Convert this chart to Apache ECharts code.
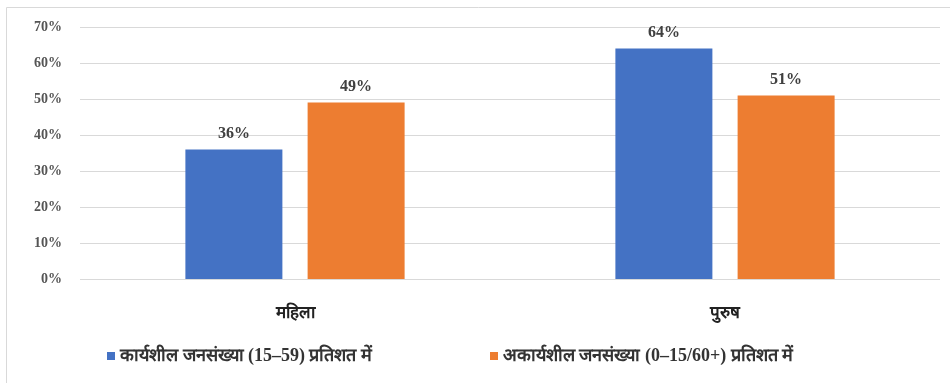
<!doctype html>
<html lang="hi">
<head>
    <meta charset="utf-8">
    <title>कार्यशील जनसंख्या</title>
    <script src="https://cdn.jsdelivr.net/npm/echarts@6/dist/echarts.min.js"></script>
    <style>
        html, body {margin: 0; padding: 0; background: #fff;}
        #chart {width: 950px; height: 383px;}
    </style>
</head>
<body>
<div id="chart"></div>
<script>
    // data
    let categories = ['महिला', 'पुरुष'];
    let working = [36, 64];
    let nonWorking = [49, 51];
    let seriesNames = ['कार्यशील जनसंख्या (15–59) प्रतिशत में', 'अकार्यशील जनसंख्या (0–15/60+) प्रतिशत में'];

    let font = '"Liberation Serif", "DejaVu Serif", serif';
    let chart = echarts.init(document.getElementById('chart'));

    let labelStyle = {
        show: true,
        position: 'top',
        distance: 8,
        formatter: '{c}%',
        color: '#404040',
        fontFamily: font,
        fontWeight: 'bold',
        fontSize: 16
    };

    chart.setOption({
        animation: false,
        graphic: [{
            type: 'rect',
            shape: {x: 6.5, y: 7.5, width: 960, height: 400},
            style: {fill: 'none', stroke: '#d9d9d9', lineWidth: 1},
            silent: true
        }],
        grid: {left: 80, right: 10, top: 27, bottom: 104},
        legend: {
            bottom: 13,
            left: 102,
            itemWidth: 8,
            itemHeight: 8,
            itemGap: 118,
            icon: 'rect',
            textStyle: {color: '#333', fontFamily: font, fontWeight: 'bold', fontSize: 18},
            data: seriesNames
        },
        xAxis: {
            type: 'category',
            data: categories,
            axisLine: {show: false},
            axisTick: {show: false},
            axisLabel: {color: '#222', fontFamily: font, fontWeight: 'bold', fontSize: 17, margin: 26}
        },
        yAxis: {
            type: 'value',
            min: 0,
            max: 70,
            interval: 10,
            axisLabel: {formatter: '{value}%', color: '#555', fontFamily: font, fontWeight: 'bold', fontSize: 14, margin: 18},
            splitLine: {lineStyle: {color: '#d9d9d9'}}
        },
        series: [{
            name: seriesNames[0],
            type: 'bar',
            data: working,
            barWidth: 97,
            barGap: '26%',
            itemStyle: {color: '#4472C4'},
            label: labelStyle
        }, {
            name: seriesNames[1],
            type: 'bar',
            data: nonWorking,
            barWidth: 97,
            itemStyle: {color: '#ED7D31'},
            label: labelStyle
        }]
    });

    window.onresize = function () {
        chart.resize();
    };
</script>
</body>
</html>
